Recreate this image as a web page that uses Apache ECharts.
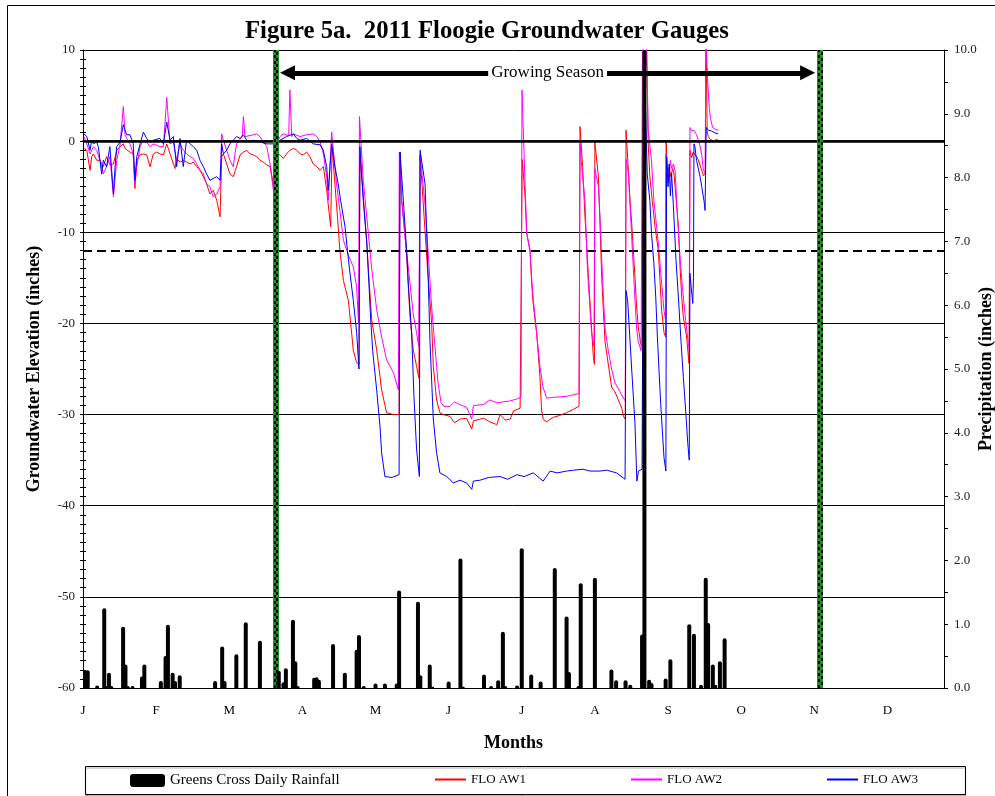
<!DOCTYPE html>
<html><head><meta charset="utf-8">
<script src="https://cdn.jsdelivr.net/npm/echarts@6/dist/echarts.min.js"></script>
<style>html,body{margin:0;padding:0;background:#fff}#c{width:995px;height:796px}</style>
</head><body><div id="c"></div>
<script>
// Day-of-year (0 = Jan 1, 2011) based data
const monthTickDays = [0,31,62,93,124,155,186,217,248,279,310,341];
const monthLetters = ['J','F','M','A','M','J','J','A','S','O','N','D'];
const precipTicks = [0,1,2,3,4,5,6,7,8,9,10];

const growingSeasonStart = 81.7;
const growingSeasonEnd = 312.4;
const arrowStart = 86.7;
const arrowEnd = 307.2;
const arrowLevel = 7.5;
const targetDepth = -12;

const rainfall = [[1,0.28],[2,0.28],[6,0.04],[9,1.25],[10,0.03],[11,0.24],[12,0.03],[17,0.96],[18,0.37],[19,0.03],[21,0.03],[25,0.18],[26,0.37],[33,0.11],[35,0.5],[36,0.99],[38,0.24],[39,0.11],[41,0.2],[56,0.11],[59,0.65],[60,0.11],[65,0.53],[69,1.03],[75,0.74],[83,0.27],[85,0.09],[86,0.31],[89,1.07],[90,0.42],[91,0.03],[98,0.16],[99,0.17],[100,0.13],[106,0.69],[111,0.24],[116,0.6],[117,0.83],[119,0.03],[124,0.07],[128,0.07],[133,0.07],[134,1.53],[142,1.35],[143,0.2],[147,0.37],[148,0.02],[155,0.1],[160,2.03],[161,0.02],[170,0.21],[173,0.03],[176,0.12],[178,0.88],[179,0.03],[184,0.04],[186,2.19],[190,0.21],[194,0.1],[200,1.88],[205,1.12],[206,0.25],[210,0.03],[211,1.64],[217,1.73],[224,0.29],[226,0.12],[230,0.12],[232,0.05],[237,0.84],[238,12],[240,0.13],[241,0.08],[247,0.15],[249,0.45],[257,1.0],[259,0.85],[262,0.05],[264,1.73],[265,1.02],[267,0.37],[268,0.05],[270,0.42],[272,0.78]];

const aw1 = [[0.4,-0.8],[1.6,-1.0],[3.0,-3.2],[3.7,-1.7],[4.4,-1.4],[5.8,-2.1],[7.2,-2.1],[8.6,-2.8],[10.0,-1.7],[11.4,-2.6],[12.9,-2.5],[14.3,-1.0],[15.7,-0.6],[17.1,-0.3],[17.8,-0.8],[18.5,-1.0],[19.9,-1.2],[21.3,-1.4],[22.0,-5.2],[22.8,-2.1],[24.2,-1.5],[25.6,-1.4],[27.0,-1.5],[28.4,-2.8],[29.8,-1.4],[31.2,-1.2],[32.6,-1.4],[34.1,-1.5],[35.5,-0.3],[36.9,-1.4],[39.0,-3.0],[39.7,-1.9],[41.1,-2.3],[42.5,-2.1],[43.9,-2.3],[45.4,-2.5],[46.8,-2.3],[48.2,-2.8],[49.6,-3.2],[51.0,-3.9],[52.4,-4.7],[53.8,-5.8],[55.2,-5.4],[56.7,-6.5],[58.1,-8.3],[58.8,-1.7],[59.5,-1.4],[60.9,-2.5],[62.3,-3.6],[63.7,-3.9],[65.1,-2.8],[66.6,-1.5],[68.0,-1.2],[69.4,-1.0],[70.8,-1.4],[72.2,-1.5],[73.6,-1.7],[75.0,-2.1],[76.4,-2.3],[77.9,-2.6],[79.3,-2.8],[80.7,-4.7],[81.4,-6.1],[82.1,-1.4],[83.5,-1.5],[84.9,-1.9],[86.3,-1.4],[87.7,-1.0],[89.2,-0.8],[90.6,-1.0],[92.0,-1.4],[93.4,-1.5],[94.8,-1.2],[96.2,-1.7],[97.6,-2.5],[99.1,-2.8],[100.5,-3.2],[101.9,-2.8],[103.3,-5.4],[105.0,-9.4],[105.6,-0.6],[106.8,-4.7],[108.2,-9.4],[108.9,-12.0],[110.4,-15.3],[112.5,-17.5],[113.9,-21.1],[114.6,-23.0],[116.0,-24.3],[117.0,-24.5],[117.4,-1.5],[118.8,-6.0],[120.3,-11.0],[121.2,-15.0],[122.4,-19.6],[124.5,-22.9],[126.6,-27.3],[128.7,-29.8],[131.6,-30.0],[134.0,-30.0],[134.4,-1.2],[135.1,-6.5],[136.5,-10.1],[137.5,-14.0],[138.6,-19.2],[140.0,-22.9],[141.4,-24.7],[142.4,-26.0],[142.9,-1.5],[144.6,-8.3],[146.0,-13.8],[147.8,-20.0],[148.5,-24.7],[149.9,-28.4],[151.3,-29.8],[152.7,-30.0],[155.6,-30.2],[157.5,-30.9],[159.8,-30.5],[162.6,-30.4],[164.8,-31.6],[165.5,-30.7],[169.8,-30.4],[172.5,-30.8],[175.4,-31.1],[176.8,-30.0],[179.0,-30.6],[181.1,-30.5],[182.5,-29.6],[185.3,-29.3],[186.2,-2.0],[187.4,-6.0],[188.1,-10.1],[189.5,-12.0],[190.2,-15.6],[190.9,-18.0],[192.3,-21.0],[193.7,-25.8],[194.4,-29.5],[195.1,-30.5],[196.6,-30.8],[198.0,-30.5],[199.4,-30.3],[202.0,-30.1],[205.0,-29.8],[208.0,-29.4],[210.3,-29.1],[210.7,1.6],[211.8,-2.8],[212.8,-8.3],[214.2,-14.5],[214.9,-17.5],[216.3,-23.5],[216.8,-24.5],[217.0,-0.1],[218.5,-3.9],[219.2,-9.4],[219.9,-15.0],[220.6,-18.6],[221.3,-22.0],[222.7,-24.5],[224.1,-27.0],[225.5,-27.5],[227.6,-28.8],[228.4,-29.3],[229.1,-30.2],[229.9,-30.5],[230.2,1.2],[231.2,-3.2],[231.9,-6.5],[232.6,-9.0],[233.3,-12.0],[234.0,-14.9],[234.7,-18.2],[235.4,-20.4],[236.4,-22.2],[237.0,-22.5],[237.6,12],[238.8,12],[239.6,-0.3],[240.3,-3.9],[241.3,-6.5],[242.5,-9.4],[243.9,-12.0],[244.6,-15.3],[245.3,-18.6],[246.3,-21.0],[247.0,-21.5],[247.2,0.0],[247.8,-3.5],[248.5,-2.8],[249.2,-3.9],[250.0,-3.0],[250.5,-3.5],[251.0,-5.0],[252.4,-9.4],[253.1,-13.8],[253.8,-17.1],[254.5,-19.3],[255.9,-21.5],[256.9,-24.4],[257.3,-1.0],[258.0,-1.8],[258.7,-1.2],[259.4,-1.3],[260.8,-2.0],[261.6,-2.1],[263.0,-3.8],[263.8,-3.5],[264.1,12],[264.6,1.0],[265.1,0.5],[265.8,0.2],[266.5,0.4],[267.5,0.0],[268.5,0.2],[269.3,0.1]];

const aw2 = [[0.4,0.5],[1.6,-0.3],[3.0,-1.4],[4.4,-0.6],[5.8,-1.0],[7.2,-2.1],[8.6,-3.6],[10.0,-2.8],[11.4,-1.7],[12.9,-6.1],[14.3,-2.1],[15.7,-0.4],[17.1,3.8],[17.8,0.7],[18.5,0.3],[19.9,-0.3],[21.3,-1.4],[22.0,-4.7],[22.8,-2.8],[24.2,-0.6],[25.6,0.1],[27.0,-0.1],[28.4,-0.6],[29.8,-0.3],[32.6,-0.6],[34.1,-0.6],[35.5,4.8],[36.9,-0.3],[38.3,-0.1],[39.7,-2.1],[41.1,-0.3],[42.5,-1.0],[43.9,-1.4],[45.4,-1.7],[46.8,-1.9],[48.2,-2.5],[49.6,-3.2],[51.0,-3.6],[52.4,-4.7],[53.8,-5.0],[55.2,-6.1],[56.7,-5.8],[58.1,-5.0],[58.8,0.8],[59.5,0.1],[60.9,-1.0],[62.3,-2.1],[63.7,-2.8],[64.4,-1.4],[65.1,-0.3],[67.5,0.5],[68.0,2.7],[68.7,0.5],[69.4,0.5],[72.2,0.7],[73.6,0.8],[75.0,0.5],[77.9,-0.6],[79.3,-2.5],[80.7,-5.4],[81.4,-4.3],[82.1,-0.3],[83.5,0.5],[84.9,0.8],[87.2,0.6],[87.7,5.6],[88.5,0.5],[89.2,0.8],[92.0,0.5],[94.8,0.7],[97.6,0.8],[99.1,0.5],[100.5,-0.1],[101.9,-1.4],[103.3,-3.9],[104.0,-6.5],[104.7,-2.8],[105.4,1.0],[106.1,0.8],[107.5,-4.7],[108.9,-7.6],[110.4,-10.9],[112.5,-12.5],[114.6,-13.8],[116.0,-16.0],[116.8,-20.0],[117.2,2.7],[118.8,-4.3],[120.3,-8.3],[122.4,-14.0],[124.5,-18.5],[126.6,-21.5],[128.7,-24.0],[131.6,-25.4],[133.7,-27.3],[134.1,-1.2],[135.1,-6.5],[136.5,-10.5],[138.6,-15.5],[140.0,-19.0],[141.4,-21.0],[142.3,-22.5],[142.9,-1.5],[143.5,-3.0],[145.0,-7.0],[146.4,-12.5],[147.8,-18.2],[149.2,-22.5],[150.5,-26.5],[151.8,-28.7],[153.0,-29.1],[155.6,-29.1],[157.5,-28.6],[159.8,-28.9],[162.6,-29.2],[164.8,-30.5],[165.5,-29.0],[169.8,-28.9],[172.5,-28.4],[175.4,-28.7],[181.1,-28.5],[183.9,-28.3],[185.7,-28.1],[186.1,5.6],[187.4,-4.7],[188.1,-10.1],[189.5,-12.0],[190.2,-15.0],[190.9,-17.4],[192.3,-21.0],[193.7,-24.7],[195.0,-27.0],[196.6,-28.2],[200.0,-28.1],[205.0,-28.0],[210.3,-27.7],[210.7,-0.3],[211.4,-2.8],[212.8,-6.5],[213.8,-13.8],[215.6,-21.1],[216.6,-22.5],[217.0,-3.0],[218.5,-5.0],[219.2,-8.5],[219.9,-13.0],[220.6,-17.0],[221.3,-20.5],[222.7,-23.0],[224.1,-25.0],[225.5,-26.5],[227.6,-27.5],[229.1,-28.2],[229.9,-28.5],[230.2,-2.0],[231.2,-3.5],[231.9,-7.0],[232.6,-10.5],[233.3,-14.0],[234.0,-17.5],[234.7,-20.5],[235.4,-22.0],[236.6,-23.0],[237.2,12],[238.8,12],[239.6,1.2],[241.0,-2.1],[242.0,-6.5],[243.9,-11.2],[245.3,-15.6],[246.3,-18.6],[246.9,-19.5],[247.1,-1.4],[247.6,-2.5],[248.3,-4.6],[249.0,-2.1],[249.5,-3.0],[250.3,-2.5],[251.0,-3.2],[252.0,-8.3],[253.1,-12.7],[254.1,-16.0],[255.2,-19.0],[256.6,-22.2],[257.1,-22.8],[257.3,1.5],[258.0,1.1],[259.0,1.2],[260.1,0.7],[261.6,-0.5],[262.3,-1.5],[263.0,-3.2],[263.8,-3.5],[264.0,12],[264.8,6.7],[265.5,3.7],[266.0,2.5],[266.9,1.5],[268.0,1.3],[269.3,1.2]];

const aw3 = [[0.4,0.8],[1.6,0.5],[3.0,-1.0],[3.7,0.1],[4.4,-0.3],[5.8,-0.1],[6.5,-0.6],[7.9,-3.6],[8.6,-2.1],[10.0,-2.8],[11.4,-0.6],[12.9,-5.8],[13.6,-2.8],[14.3,-0.6],[15.7,-0.1],[17.1,1.8],[18.5,0.7],[19.9,0.7],[21.3,-0.3],[22.0,-4.3],[22.8,-1.7],[24.2,-0.3],[25.6,1.0],[27.0,0.3],[28.4,-0.1],[29.8,0.1],[32.6,0.3],[34.1,-0.3],[35.5,2.1],[36.9,0.1],[38.3,0.5],[39.7,-2.8],[41.1,0.3],[42.5,-2.8],[43.9,0.1],[45.4,-0.3],[46.8,-0.6],[48.2,-1.0],[49.6,-2.1],[51.0,-2.8],[52.4,-3.6],[53.8,-4.3],[55.2,-4.1],[56.7,-3.9],[58.1,-4.3],[58.8,-0.3],[59.5,-1.4],[60.9,-1.0],[62.3,-0.3],[63.7,0.1],[65.1,0.5],[66.6,0.3],[68.0,0.7],[69.4,0.1],[70.8,-0.1],[72.2,0.1],[75.0,-0.1],[77.9,-0.3],[80.7,-0.3],[82.1,-0.1],[83.5,0.1],[86.3,0.5],[89.2,0.8],[90.6,0.3],[92.0,0.1],[94.8,0.3],[97.6,-0.3],[100.5,-0.4],[101.9,-1.0],[103.3,-2.8],[104.0,-5.4],[104.7,-2.8],[105.4,-0.3],[105.8,-0.4],[106.8,-2.8],[108.2,-4.7],[109.2,-6.5],[111.1,-9.4],[112.1,-12.0],[113.2,-14.5],[114.6,-17.5],[116.0,-21.0],[117.0,-25.0],[117.4,-0.6],[118.8,-6.5],[120.3,-11.2],[121.2,-15.6],[121.9,-19.3],[122.8,-23.0],[124.5,-27.3],[125.9,-31.3],[126.6,-34.2],[128.0,-36.8],[131.0,-36.9],[134.0,-36.6],[134.4,-1.2],[135.8,-6.5],[137.2,-12.0],[137.9,-15.6],[139.3,-21.0],[140.3,-28.0],[141.4,-33.8],[142.6,-36.8],[142.9,-1.0],[145.0,-4.7],[145.7,-10.1],[146.4,-15.6],[147.1,-22.0],[148.5,-30.5],[149.9,-34.2],[151.3,-36.4],[154.2,-36.8],[157.0,-37.5],[159.8,-37.2],[162.6,-37.5],[164.8,-38.2],[165.5,-37.3],[168.3,-37.2],[172.0,-36.9],[176.8,-36.8],[180.0,-37.1],[183.9,-36.6],[187.0,-36.8],[190.9,-36.4],[195.1,-37.3],[198.0,-36.2],[201.0,-36.4],[205.0,-36.2],[208.0,-36.1],[212.0,-36.0],[215.0,-36.2],[219.2,-36.2],[222.0,-36.1],[226.2,-36.4],[229.8,-37.1],[230.2,-16.4],[230.9,-17.5],[232.6,-25.0],[234.0,-31.0],[234.8,-37.3],[235.5,-36.2],[237.0,-36.0],[237.6,0.0],[238.4,4.3],[239.2,-3.6],[240.3,-6.5],[241.0,-10.1],[242.0,-13.4],[242.8,-17.1],[243.5,-21.5],[244.2,-25.2],[244.9,-28.8],[245.6,-31.8],[246.3,-34.7],[247.1,-36.2],[247.4,-1.7],[248.0,-5.0],[248.5,-2.5],[249.0,-6.0],[249.5,-3.5],[250.3,-7.2],[251.4,-13.1],[252.4,-17.1],[253.4,-21.5],[254.5,-25.9],[255.5,-29.6],[256.4,-33.2],[257.0,-35.0],[257.3,-14.5],[257.8,-16.0],[258.5,-17.8],[258.8,-15.0],[259.0,-0.3],[259.4,-0.6],[260.1,-2.1],[261.6,-3.9],[262.3,-5.0],[263.4,-6.8],[263.7,-7.6],[264.2,1.5],[265.1,1.2],[266.5,1.1],[267.9,0.9],[269.3,0.8]];

const serif = "'Liberation Serif','Times New Roman',serif";
const chart = echarts.init(document.getElementById('c'), null, {renderer:'canvas'});

const lineSeries = (name, data, color) => ({
  name, type:'line', data, yAxisIndex:0, symbol:'none', showSymbol:false,
  lineStyle:{color, width:1}, itemStyle:{color}, color, animation:false, z:2, clip:true
});

const greenLine = (d) => [
  {xAxis:d, lineStyle:{color:'#1f8f1f', width:6, type:'solid'}},
  {xAxis:d-0.6, lineStyle:{color:'#000', width:2, type:[3,3]}},
  {xAxis:d+0.6, lineStyle:{color:'#000', width:2, type:[3,3], dashOffset:3}}
];

const lineIcon = 'path://M0,0H31V2H0Z';
const legendText = {fontFamily:serif, fontSize:13, color:'#000'};

const option = {
  animation:false,
  backgroundColor:'#fff',
  title:{text:'Figure 5a.  2011 Floogie Groundwater Gauges', left:240, top:14,
    textStyle:{fontFamily:serif, fontSize:24.7, fontWeight:'bold', color:'#000'}},
  grid:{left:83, right:51, top:50, bottom:108, containLabel:false, outerBoundsMode:'none'},
  xAxis:{type:'value', min:0, max:365, interval:31,
    name:'Months', nameLocation:'middle', nameGap:46,
    nameTextStyle:{fontFamily:serif, fontSize:18, fontWeight:'bold', color:'#000'},
    axisLine:{show:true, lineStyle:{color:'#000', width:1.5}},
    axisTick:{show:false}, splitLine:{show:false},
    axisLabel:{customValues:monthTickDays, margin:16, fontFamily:serif, fontSize:13, color:'#000',
      formatter:(v)=>{const i=monthTickDays.indexOf(v); return i>=0?monthLetters[i]:'';}}
  },
  yAxis:[
    {type:'value', position:'left', min:-60, max:10, interval:10,
      name:'Groundwater Elevation (inches)', nameLocation:'middle', nameGap:40, nameRotate:90, nameMoveOverlap:false,
      nameTextStyle:{fontFamily:serif, fontSize:18, fontWeight:'bold', color:'#000'},
      axisLine:{show:true, lineStyle:{color:'#000', width:1}},
      axisTick:{show:true, length:3, lineStyle:{color:'#000'}},
      minorTick:{show:true, splitNumber:10, length:3, lineStyle:{color:'#000'}},
      splitLine:{show:true, lineStyle:{color:'#000', width:1}},
      axisLabel:{fontFamily:serif, fontSize:13, color:'#222', margin:8}
    },
    {type:'value', position:'right', min:0, max:10, interval:1,
      name:'Precipitation (inches)', nameLocation:'middle', nameGap:33, nameRotate:90, nameMoveOverlap:false,
      nameTextStyle:{fontFamily:serif, fontSize:18, fontWeight:'bold', color:'#000'},
      axisLine:{show:true, lineStyle:{color:'#000', width:1}},
      axisTick:{show:true, length:4, lineStyle:{color:'#000'}},
      minorTick:{show:true, splitNumber:2, length:4, lineStyle:{color:'#000'}},
      splitLine:{show:false},
      axisLabel:{fontFamily:serif, fontSize:13, color:'#222', margin:10,
        formatter:(v)=>precipTicks.includes(v)?v.toFixed(1):''}
    },
    {type:'value', position:'left', min:-60, max:10, interval:10,
      axisLine:{show:false}, axisLabel:{show:false}, splitLine:{show:false},
      axisTick:{show:true, inside:true, length:3, lineStyle:{color:'#000'}},
      minorTick:{show:true, splitNumber:10, length:3, lineStyle:{color:'#000'}}
    }
  ],
  legend:[
    {data:[{name:'Greens Cross Daily Rainfall', icon:'roundRect'}], left:130, top:773, padding:0, itemWidth:35, itemHeight:13,
      textStyle:{fontFamily:serif, fontSize:15, color:'#000'}, selectedMode:false},
    {data:[{name:'FLO AW1', icon:lineIcon}], left:435, top:773, padding:0, itemWidth:31, itemHeight:2, textStyle:legendText, selectedMode:false},
    {data:[{name:'FLO AW2', icon:lineIcon}], left:631, top:773, padding:0, itemWidth:31, itemHeight:2, textStyle:legendText, selectedMode:false},
    {data:[{name:'FLO AW3', icon:lineIcon}], left:827, top:773, padding:0, itemWidth:31, itemHeight:2, textStyle:legendText, selectedMode:false}
  ],
  graphic:[
    {type:'polyline', z:0, silent:true, shape:{points:[[7.5,800],[7.5,5.5],[1000,5.5]]}, style:{stroke:'#000', lineWidth:1, fill:null}},
    {type:'rect', z:0, silent:true, shape:{x:85.5, y:766.5, width:880, height:28}, style:{fill:'#fff', stroke:'#000', lineWidth:1, shadowColor:'rgba(0,0,0,0.35)', shadowOffsetY:1.5, shadowBlur:1}}
  ],
  series:[
    lineSeries('FLO AW1', aw1, '#ff0000'),
    lineSeries('FLO AW2', aw2, '#ff00ff'),
    lineSeries('FLO AW3', aw3, '#0000ff'),
    {name:'refs', type:'line', data:[], yAxisIndex:0, symbol:'none', z:3,
      markLine:{silent:true, symbol:'none', animation:false, label:{show:false},
        data:[
          {yAxis:0, lineStyle:{color:'#000', width:2.6, type:'solid'}},
          {yAxis:targetDepth, lineStyle:{color:'#000', width:2, type:[9,5]}},
          ...greenLine(growingSeasonStart),
          ...greenLine(growingSeasonEnd),
          [
            {coord:[arrowStart, arrowLevel], symbol:'triangle', symbolSize:[15,15],
              lineStyle:{color:'#000', width:5, type:'solid'},
              label:{show:true, position:'middle', distance:0, verticalAlign:'middle', formatter:'Growing Season', color:'#000',
                fontFamily:serif, fontSize:17, backgroundColor:'#fff', padding:[0,3]}},
            {coord:[arrowEnd, arrowLevel], symbol:'triangle', symbolSize:[15,15]}
          ]
        ]}
    },
    {name:'Greens Cross Daily Rainfall', type:'bar', data:rainfall, yAxisIndex:1, barWidth:4,
      itemStyle:{color:'#000', borderRadius:[2,2,0,0]}, color:'#000', z:5, animation:false}
  ]
};
chart.setOption(option);
</script></body></html>
